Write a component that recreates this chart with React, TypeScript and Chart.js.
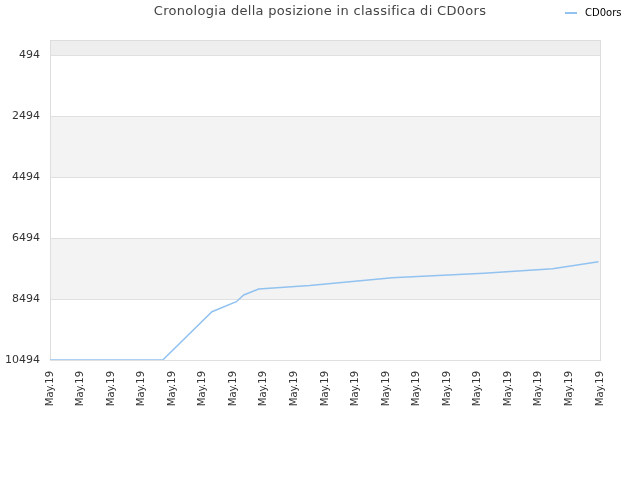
import { useEffect, useRef } from "react";
import { Chart, registerables, Plugin } from "chart.js";

Chart.register(...registerables);

const TITLE = "Cronologia della posizione in classifica di CD0ors";
const SERIES_NAME = "CD0ors";
const LINE_COLOR = "rgb(146, 194, 240)";

// x labels: one per tick (all "May.19")
const TICK_LABELS = [
  "May.19", "May.19", "May.19", "May.19", "May.19", "May.19", "May.19",
  "May.19", "May.19", "May.19", "May.19", "May.19", "May.19", "May.19",
  "May.19", "May.19", "May.19", "May.19", "May.19",
];
const Y_TICKS = [494, 2494, 4494, 6494, 8494, 10494];

// position in days from the first tick, and ranking value
const DAYS = [0, 3.69, 5.3, 6.1, 6.34, 6.83, 8.5, 11.2, 14.2, 16.45, 17.95];
const POSITIONS = [10494, 10494, 8910, 8582, 8362, 8166, 8050, 7795, 7650, 7500, 7270];

const bands: Plugin = {
  id: "bands",
  beforeDraw(chart) {
    const { ctx, chartArea } = chart;
    const y = chart.scales.y;
    const fill = (a: number, b: number, color: string) => {
      const top = y.getPixelForValue(a);
      const bot = y.getPixelForValue(b);
      ctx.fillStyle = color;
      ctx.fillRect(chartArea.left, top, chartArea.right - chartArea.left, bot - top);
    };
    ctx.save();
    fill(0, 494, "#eeeeee");
    fill(2494, 4494, "#f3f3f3");
    fill(6494, 8494, "#f3f3f3");
    ctx.strokeStyle = "#dddddd";
    ctx.lineWidth = 1;
    ctx.strokeRect(chartArea.left + 0.5, chartArea.top + 0.5, chartArea.right - chartArea.left, chartArea.bottom - chartArea.top);
    ctx.restore();
  },
  afterDraw(chart) {
    const { ctx } = chart;
    ctx.save();
    ctx.fillStyle = "#444444";
    ctx.font = "13px 'DejaVu Sans'";
    (ctx as any).letterSpacing = "0.3px";
    ctx.textAlign = "center";
    ctx.textBaseline = "middle";
    ctx.fillText(TITLE, 320, 12);
    (ctx as any).letterSpacing = "0px";
    ctx.strokeStyle = LINE_COLOR;
    ctx.lineWidth = 2;
    ctx.beginPath();
    ctx.moveTo(565, 13);
    ctx.lineTo(577, 13);
    ctx.stroke();
    ctx.fillStyle = "#000000";
    ctx.font = "10px 'DejaVu Sans'";
    ctx.textAlign = "left";
    ctx.fillText(SERIES_NAME, 585, 13);
    ctx.restore();
  },
};

export default function App() {
  const canvasRef = useRef<HTMLCanvasElement>(null);

  useEffect(() => {
    document.body.style.margin = "0";
    if (!canvasRef.current) return;
    const chart = new Chart(canvasRef.current, {
      type: "line",
      data: {
        datasets: [
          {
            label: SERIES_NAME,
            data: DAYS.map((d, i) => ({ x: d, y: POSITIONS[i] })),
            borderColor: LINE_COLOR,
            borderWidth: 1.5,
            pointRadius: 0,
            tension: 0,
            fill: false,
          },
        ],
      },
      options: {
        animation: false,
        responsive: false,
        layout: { padding: { top: 40, right: 40, left: 0, bottom: 0 } },
        plugins: { legend: { display: false }, title: { display: false }, tooltip: { enabled: false } },
        scales: {
          x: {
            type: "linear",
            min: 0,
            max: TICK_LABELS.length - 1,
            afterBuildTicks: (s) => {
              s.ticks = TICK_LABELS.map((_, i) => ({ value: i }));
            },
            afterFit: (s) => {
              s.height = 120;
            },
            grid: { display: false },
            border: { display: false },
            ticks: {
              autoSkip: false,
              maxRotation: 90,
              minRotation: 90,
              color: "#333333",
              font: { family: "DejaVu Sans", size: 10 },
              callback: (_v, i) => TICK_LABELS[i],
            },
          },
          y: {
            type: "linear",
            reverse: true,
            min: 0,
            max: 10494,
            afterBuildTicks: (s) => {
              s.ticks = Y_TICKS.map((v) => ({ value: v }));
            },
            afterFit: (s) => {
              s.width = 50;
            },
            grid: { color: "#e0e0e0", drawTicks: false },
            border: { display: false },
            ticks: {
              color: "#333333",
              padding: 10,
              font: { family: "DejaVu Sans", size: 11 },
              callback: (v) => String(v),
            },
          },
        },
      },
      plugins: [bands],
    });
    return () => chart.destroy();
  }, []);

  return (
    <div style={{ width: 640, height: 480 }}>
      <canvas ref={canvasRef} width={640} height={480} />
    </div>
  );
}
